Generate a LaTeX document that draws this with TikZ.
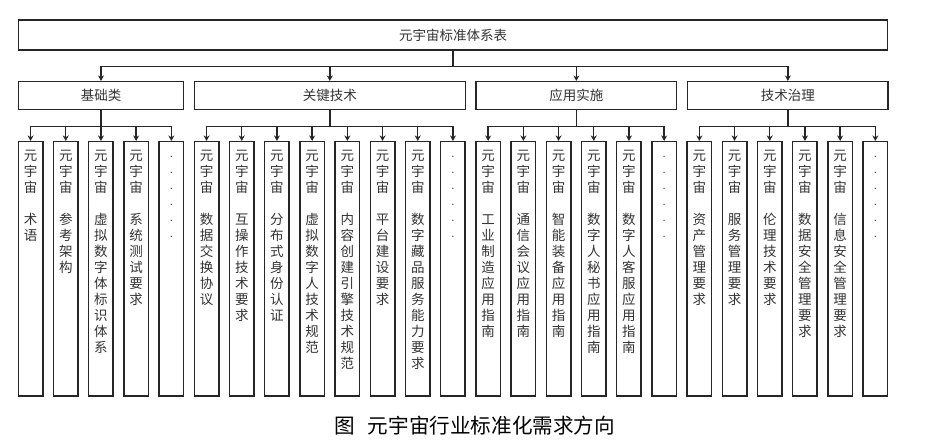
\documentclass[tikz,border=0pt]{standalone}
\usepackage{fontspec}
\newfontfamily\cjk{Noto Sans CJK SC}
\usetikzlibrary{arrows.meta}
\definecolor{linec}{HTML}{262626}
\definecolor{textc}{HTML}{333333}
\newcommand\yzz{\rule{0pt}{12pt}元\\宇\\宙\\[16pt]}
\newcommand\dt{\raisebox{3.3pt}{\normalfont\fontsize{13.5}{16}\selectfont .}}
\newcommand\vdotsbox{\rule{0pt}{12pt}\dt\\\dt\\\dt\\\dt\\\dt\\\dt}
\begin{document}
\begin{tikzpicture}[x=1pt,y=-1pt,
 box/.style={draw=linec, line width=1.5pt, inner sep=0pt, font=\cjk\fontsize{13.5}{16}\selectfont, text=textc},
 leafbox/.style={draw=linec, line width=1.5pt, minimum width=24.5pt, minimum height=254.3pt, inner sep=0pt},
 vtext/.style={font=\cjk\fontsize{13.5}{16}\selectfont, text=textc, align=center, inner sep=0pt, anchor=north},
 arr/.style={draw=linec, line width=1.4pt, -{Stealth[length=5.5pt,width=6pt]}}
]
\useasboundingbox[fill=white] (0,0) rectangle (932,444);

\newcommand\leafnode[2]{%
  \node[leafbox] (l#1) at ({30.55+35.2*#1},268.85) {};
  \node[vtext] (t#1) at ([yshift=-7.3pt]l#1.north) {#2};
}

\node[box, minimum width=869.4pt, minimum height=30pt] (top) at (453,35) {元宇宙标准体系表};

\node[box, minimum width=165.4pt, minimum height=27.6pt] (c1) at (101,95.5) {基础类};
\node[box, minimum width=271pt, minimum height=27.6pt] (c2) at (329.8,95.5) {关键技术};
\node[box, minimum width=200.7pt, minimum height=27.6pt] (c3) at (576.35,95.5) {应用实施};
\node[box, minimum width=200.3pt, minimum height=27.6pt] (c4) at (787.85,95.5) {技术治理};

\leafnode{0}{\yzz 术\\语}
\leafnode{1}{\yzz 参\\考\\架\\构}
\leafnode{2}{\yzz 虚\\拟\\数\\字\\体\\标\\识\\体\\系}
\leafnode{3}{\yzz 系\\统\\测\\试\\要\\求}
\leafnode{4}{\vdotsbox}
\leafnode{5}{\yzz 数\\据\\交\\换\\协\\议}
\leafnode{6}{\yzz 互\\操\\作\\技\\术\\要\\求}
\leafnode{7}{\yzz 分\\布\\式\\身\\份\\认\\证}
\leafnode{8}{\yzz 虚\\拟\\数\\字\\人\\技\\术\\规\\范}
\leafnode{9}{\yzz 内\\容\\创\\建\\引\\擎\\技\\术\\规\\范}
\leafnode{10}{\yzz 平\\台\\建\\设\\要\\求}
\leafnode{11}{\yzz 数\\字\\藏\\品\\服\\务\\能\\力\\要\\求}
\leafnode{12}{\vdotsbox}
\leafnode{13}{\yzz 工\\业\\制\\造\\应\\用\\指\\南}
\leafnode{14}{\yzz 通\\信\\会\\议\\应\\用\\指\\南}
\leafnode{15}{\yzz 智\\能\\装\\备\\应\\用\\指\\南}
\leafnode{16}{\yzz 数\\字\\人\\秘\\书\\应\\用\\指\\南}
\leafnode{17}{\yzz 数\\字\\人\\客\\服\\应\\用\\指\\南}
\leafnode{18}{\vdotsbox}
\leafnode{19}{\yzz 资\\产\\管\\理\\要\\求}
\leafnode{20}{\yzz 服\\务\\管\\理\\要\\求}
\leafnode{21}{\yzz 伦\\理\\技\\术\\要\\求}
\leafnode{22}{\yzz 数\\据\\安\\全\\管\\理\\要\\求}
\leafnode{23}{\yzz 信\\息\\安\\全\\管\\理\\要\\求}
\leafnode{24}{\vdotsbox}

\foreach \c in {c1,c2,c3,c4} \draw[arr] (top.south) -- ++(0,16) -| (\c.north);

\foreach \i in {0,...,4} \draw[arr] (c1.south) -- ++(0,16.4) -| (l\i.north);
\foreach \i in {5,...,12} \draw[arr] (c2.south) -- ++(0,16.4) -| (l\i.north);
\foreach \i in {13,...,18} \draw[arr] (c3.south) -- ++(0,16.4) -| (l\i.north);
\foreach \i in {19,...,24} \draw[arr] (c4.south) -- ++(0,16.4) -| (l\i.north);

\node[font=\cjk\fontsize{20.6}{24}\selectfont, text=black, inner sep=0pt] (cap) at (475,426) {图\hspace{0.6em}元宇宙行业标准化需求方向};
\end{tikzpicture}
\end{document}
